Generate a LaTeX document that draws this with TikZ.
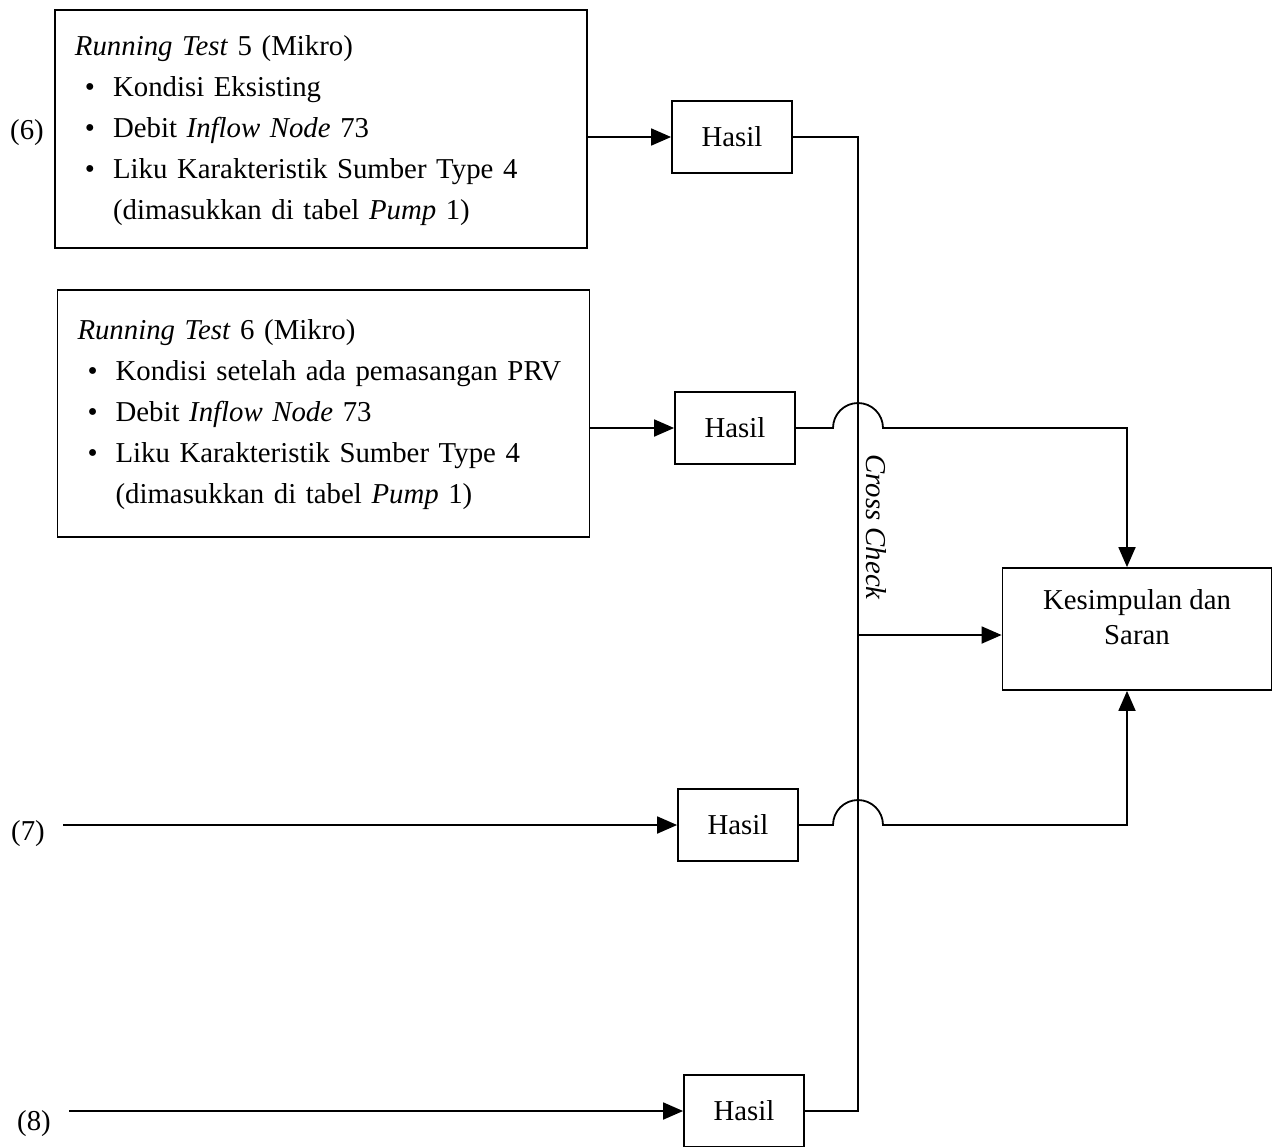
\documentclass[tikz,border=0pt]{standalone}
\usepackage{fontspec}
\setmainfont{Liberation Serif}
\usetikzlibrary{arrows.meta, positioning}
\newcommand{\runtest}[2]{%
  \begin{tabular}{@{\hspace{5pt}}c@{\hspace{9pt}}l@{}}
    \multicolumn{2}{@{}l@{}}{\textit{Running Test} #1 (Mikro)}\\
    \textbullet & #2\\
    \textbullet & Debit \textit{Inflow Node} 73\\
    \textbullet & Liku Karakteristik Sumber Type 4\\
                & (dimasukkan di tabel \textit{Pump} 1)
  \end{tabular}}
\tikzset{
  testbox/.style={rectangle, draw, line width=0.9pt, align=left, inner xsep=10pt, text width=246pt},
  resbox/.style={rectangle, draw, line width=0.9pt, align=center, minimum width=60pt, minimum height=36pt},
  endbox/.style={rectangle, draw, line width=0.9pt, align=center, minimum width=134.5pt, minimum height=61pt,
    font=\fontsize{14.4}{17.5}\selectfont, text depth=12pt},
  numlbl/.style={inner sep=1pt},
  link/.style={line width=0.9pt},
  arrow/.style={-{Triangle[length=10pt, width=8.5pt]}, line width=0.9pt},
}

\begin{document}
\begin{tikzpicture}[x=0.5pt, y=-0.5pt, font=\fontsize{14.4}{20.5}\selectfont]
  \useasboundingbox (0,0) rectangle (1281,1147);
  \node[testbox, minimum height=119pt] (rt5) at (321,129) {\runtest{5}{Kondisi Eksisting}};
  \node[testbox, minimum height=123.5pt] (rt6) at (323.5,413.5) {\runtest{6}{Kondisi setelah ada pemasangan PRV}};
  \node[numlbl] (n6) at (27,133) {(6)};
  \node[numlbl] (n7) at (28,834) {(7)};
  \node[numlbl] (n8) at (34,1124) {(8)};
  \node[resbox] (h1) at (732,137) {Hasil};
  \node[resbox] (h2) at (735,428) {Hasil};
  \node[resbox] (h3) at (738,825) {Hasil};
  \node[resbox] (h4) at (744,1111) {Hasil};
  \node[endbox] (kes) at (1137,629) {Kesimpulan dan\\Saran};
  \node[rotate=-90, font=\fontsize{14.4}{16}\selectfont\itshape] (cc) at (876,527) {Cross Check};
  \coordinate (cx) at (858,0);
  \coordinate (kx) at (1127,0);
  \draw[arrow] (rt5.east |- h1) -- (h1);
  \draw[arrow] (rt6.east |- h2) -- (h2);
  \draw[arrow] ([xshift=8pt]n7.east |- h3) -- (h3);
  \draw[arrow] ([xshift=8pt]n8.east |- h4) -- (h4);
  \draw[link] (h1.east) -- (h1.east -| cx) -- (h4.east -| cx) -- (h4.east);
  \draw[arrow] ([yshift=-3pt]kes.west -| cx) -- ([yshift=-3pt]kes.west);
  \draw[arrow] (h2.east) -- ([xshift=-12.5pt]h2.east -| cx) arc[start angle=180, end angle=0, radius=12.5pt] -- (h2.east -| kx) -- (kx |- kes.north);
  \draw[arrow] (h3.east) -- ([xshift=-12.5pt]h3.east -| cx) arc[start angle=180, end angle=0, radius=12.5pt] -- (h3.east -| kx) -- (kx |- kes.south);
\end{tikzpicture}
\end{document}
